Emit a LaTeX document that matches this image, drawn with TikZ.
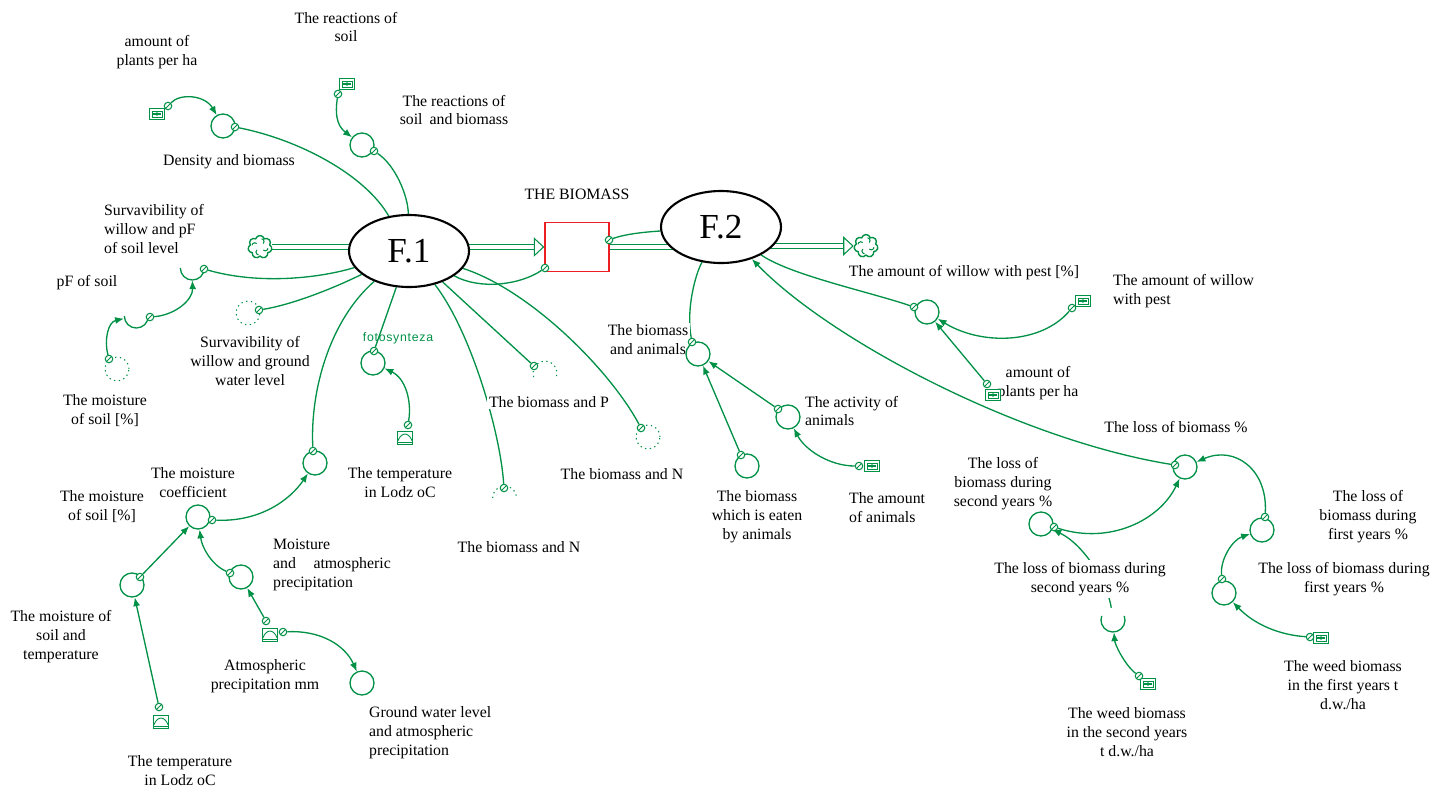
\documentclass[tikz,border=0pt]{standalone}
\usepackage{fontspec}
\setmainfont{Liberation Serif}
\newfontfamily\sansLabel[LetterSpace=6]{Liberation Sans}
\usetikzlibrary{arrows.meta,shapes.geometric,shapes.symbols,backgrounds}
\definecolor{simGreen}{RGB}{0,145,70}
\definecolor{stockRed}{RGB}{235,30,35}

\begin{document}
\begin{tikzpicture}[x=0.02cm,y=-0.02cm,%%
  labelStyle/.style={font=\fontsize{9}{10.8}\selectfont,align=center,inner sep=1pt,fill=white},%%
  leftLabel/.style={labelStyle,align=left,anchor=west},%%
  rateStyle/.style={ellipse,draw,line width=1.2pt,fill=white,minimum width=2.4cm,minimum height=1.44cm,font=\fontsize{20}{24}\selectfont},%%
  stockStyle/.style={draw=stockRed,line width=0.8pt,minimum width=1.28cm,minimum height=0.98cm,inner sep=0pt},%%
  auxStyle/.style={circle,draw=simGreen,line width=0.75pt,minimum size=0.48cm,inner sep=0pt},%%
  shadowStyle/.style={auxStyle,dotted,line width=0.6pt},%%
  openStyle/.style={circle,minimum size=0.48cm,inner sep=0pt},%%
  arcStyle/.style={draw=simGreen,line width=0.75pt},%%
  tailStyle/.style={circle,draw=simGreen,line width=0.6pt,fill=white,minimum size=0.15cm,inner sep=0pt,
    path picture={\draw[simGreen,line width=0.5pt] (path picture bounding box.south west) -- (path picture bounding box.north east);}},%%
  constStyle/.style={draw=simGreen,line width=0.8pt,fill=white,minimum width=0.3cm,minimum height=0.22cm,inner sep=0pt,
    path picture={
      \draw[simGreen,line width=0.4pt] ([shift={(1.4pt,1.4pt)}]path picture bounding box.south west) rectangle ([shift={(-1.4pt,-1.4pt)}]path picture bounding box.north east);
      \draw[simGreen,line width=0.6pt] ([xshift=-2.5pt]path picture bounding box.center) -- ([xshift=2.5pt]path picture bounding box.center);
      \fill[simGreen] (path picture bounding box.center) circle (1.1pt);}},%%
  graphStyle/.style={draw=simGreen,line width=0.7pt,fill=white,minimum width=0.3cm,minimum height=0.27cm,inner sep=0pt,
    path picture={
      \draw[simGreen,line width=0.5pt] ([shift={(-4pt,-2.3pt)}]path picture bounding box.center) -- ([shift={(4pt,-2.3pt)}]path picture bounding box.center);
      \draw[simGreen,line width=0.5pt] ([shift={(-4pt,-1.5pt)}]path picture bounding box.center) .. controls ([shift={(-2pt,3.5pt)}]path picture bounding box.center) and ([shift={(2pt,3.5pt)}]path picture bounding box.center) .. ([shift={(4pt,-1.5pt)}]path picture bounding box.center);}},%%
  cloudStyle/.style={cloud,cloud puffs=7,aspect=1,draw=simGreen,line width=0.8pt,fill=white,minimum width=0.48cm,minimum height=0.46cm,inner sep=0pt,
    path picture={
      \foreach \a in {45,135,225,315}
        \draw[simGreen,line width=0.6pt] ([shift={(\a:2.6pt)}]path picture bounding box.center) arc[start angle=\a-90,end angle=\a+40,radius=1.6pt];}},%%
  pipeStyle/.style={draw=simGreen,double=white,double distance=2.2pt,line width=0.6pt},%%
  pipeHead/.style={-{Triangle[open,length=6pt,width=11pt]}},%%
  linkStyle/.style={draw=simGreen,line width=0.75pt},%%
  linkArrow/.style={linkStyle,-{Latex[length=5pt,width=4pt]}}
]
\useasboundingbox (0,0) rectangle (1445,789);
%%
%% Labels.
\node[labelStyle] (plantsLabelA) at (157,52) {amount of\\plants per ha};
\node[labelStyle] (reacLabel) at (346,27) {The reactions of\\soil};
\node[labelStyle] (reacAuxLabel) at (454,110) {The reactions of\\soil\hspace{4pt}and biomass};
\node[labelStyle] (densLabel) at (229,162) {Density and biomass};
\node[labelStyle] (stockLabel) at (577,194) {THE BIOMASS};
\node[leftLabel] (svpfLabel) at (102,229) {Survavibility of\\willow and pF\\of soil level};
\node[labelStyle] (pfLabel) at (87,283) {pF of soil};
\node[labelStyle] (moistLabelA) at (105,411) {The moisture\\of soil [\%]};
\node[labelStyle] (gwLabel) at (250,361) {Survavibility of\\willow and ground\\water level};
\node[labelStyle,fill=none,font=\sansLabel\fontsize{7}{9}\selectfont,text=simGreen] (fotoLabel) at (398,338) {fotosynteza};
\node[labelStyle] (tempLabelA) at (400,483) {The temperature\\in Lodz oC};
\node[labelStyle] (bpLabel) at (549,402) {The biomass and P};
\node[labelStyle] (bnLabelB) at (622,474) {The biomass and N};
\node[labelStyle] (bnLabelA) at (519,547) {The biomass and N};
\node[labelStyle] (animLabel) at (648,340) {The biomass\\and animals};
\node[leftLabel] (activityLabel) at (803,411) {The activity of\\animals};
\node[labelStyle] (eatenLabel) at (757,517) {The biomass\\which is eaten\\by animals};
\node[leftLabel] (animConstLabel) at (847,508) {The amount\\of animals};
\node[labelStyle] (pestLabel) at (964,273) {The amount of willow with pest [\%]};
\node[leftLabel] (pestConstLabel) at (1111,291) {The amount of willow\\with pest};
\node[labelStyle] (plantsLabelB) at (1038,383) {amount of\\plants per ha};
\node[labelStyle] (lossLabel) at (1176,427) {The loss of biomass \%};
\node[labelStyle] (lossSecLabel) at (1003,484) {The loss of\\biomass during\\second years \%};
\node[labelStyle] (lossSecLabelB) at (1080,579) {The loss of biomass during\\second years \%};
\node[labelStyle] (weedSecLabel) at (1127,732) {The weed biomass\\in the second years\\t d.w./ha};
\node[labelStyle] (lossFirstLabel) at (1368,517) {The loss of\\biomass during\\first years \%};
\node[labelStyle] (lossFirstLabelB) at (1344,579) {The loss of biomass during\\first years \%};
\node[labelStyle] (weedFirstLabel) at (1343,685) {The weed biomass\\in the first years t\\d.w./ha};
\node[labelStyle] (coefLabel) at (193,483) {The moisture\\coefficient};
\node[labelStyle] (moistLabelB) at (102,507) {The moisture\\of soil [\%]};
\node[labelStyle] (mstLabel) at (61,637) {The moisture of\\soil and\\temperature};
\node[leftLabel] (matLabel) at (271,565) {Moisture\\and\hspace{10pt}atmospheric\\precipitation};
\node[labelStyle] (atmLabel) at (265,676) {Atmospheric\\precipitation mm};
\node[leftLabel] (gwlLabel) at (367,733) {Ground water level\\and atmospheric\\precipitation};
\node[labelStyle] (tempLabelB) at (180,771) {The temperature\\in Lodz oC};
%%
%% Rates, stock and clouds.
\node[rateStyle] (F1) at (409,251) {F.1};
\node[rateStyle] (F2) at (721,227) {F.2};
\node[stockStyle] (stock) at (577,247) {};
\node[cloudStyle] (cloudL) at (260,247) {};
\node[cloudStyle] (cloudR) at (866,246) {};
%%
%% Variables round F.1.
\node[constStyle] (plantsConstA) at (157,114) {};
\node[auxStyle] (densAux) at (223,126) {};
\node[constStyle] (reacConst) at (347,84) {};
\node[auxStyle] (reacAux) at (362,145) {};
\node[openStyle] (svpfAux) at (192,268) {};
\node[openStyle] (pfAux) at (136,316) {};
\node[shadowStyle] (moistShadowA) at (117,369) {};
\node[shadowStyle] (gwShadow) at (248,313) {};
\node[auxStyle] (gwAux) at (315,463) {};
\node[auxStyle] (fotoAux) at (373,363) {};
\node[graphStyle] (tempGraphA) at (405,438) {};
\node[openStyle] (bpShadow) at (545,373) {};
\node[openStyle] (bnShadowA) at (505,498) {};
\node[shadowStyle] (bnShadowB) at (648,437) {};
\node[auxStyle] (coefAux) at (198,517) {};
\node[auxStyle] (mstAux) at (132,585) {};
\node[graphStyle] (tempGraphB) at (161,722) {};
\node[auxStyle] (matAux) at (241,577) {};
\node[graphStyle] (atmGraph) at (270,635) {};
\node[auxStyle] (gwlAux) at (362,683) {};
%%
%% Variables round F.2.
\node[auxStyle] (animAux) at (698,354) {};
\node[auxStyle] (eatenAux) at (747,466) {};
\node[auxStyle] (activityAux) at (788,417) {};
\node[constStyle] (animConst) at (872,466) {};
\node[auxStyle] (pestAux) at (927,312) {};
\node[constStyle] (pestConst) at (1083,301) {};
\node[constStyle] (plantsConstB) at (993,395) {};
\node[auxStyle] (lossAux) at (1185,467) {};
\node[auxStyle] (lossSecAux) at (1041,524) {};
\node[openStyle] (lossSecAuxB) at (1113,620) {};
\node[constStyle] (weedSecConst) at (1148,684) {};
\node[auxStyle] (lossFirstAux) at (1262,530) {};
\node[auxStyle] (lossFirstAuxB) at (1224,593) {};
\node[constStyle] (weedFirstConst) at (1321,638) {};
%%
%% Open circles.
\draw[arcStyle] (svpfAux.east) arc[start angle=0,end angle=180,radius=12];
\draw[arcStyle] (pfAux.east) arc[start angle=0,end angle=180,radius=12];
\draw[arcStyle,dotted,line width=0.6pt] ([shift={(160:12)}]bpShadow.center) arc[start angle=160,end angle=380,radius=12];
\draw[arcStyle,dotted,line width=0.6pt] (bnShadowA.west) arc[start angle=180,end angle=360,radius=12];
\draw[arcStyle] ([shift={(-20:12)}]lossSecAuxB.center) arc[start angle=-20,end angle=200,radius=12];
%%
%% Tails of the links.
\node[tailStyle] (plantsTailA) at (168,106) {};
\node[tailStyle] (densTail) at (235,127) {};
\node[tailStyle] (reacTail) at (338,94) {};
\node[tailStyle] (reacAuxTail) at (374,151) {};
\node[tailStyle] (svpfTail) at (204,269) {};
\node[tailStyle] (pfTail) at (150,317) {};
\node[tailStyle] (moistTailA) at (109,359) {};
\node[tailStyle] (gwTail) at (259,310) {};
\node[tailStyle] (gwAuxTail) at (313,451) {};
\node[tailStyle] (fotoTail) at (374,351) {};
\node[tailStyle] (tempTailA) at (408,425) {};
\node[tailStyle] (bpTail) at (534,366) {};
\node[tailStyle] (bnTailA) at (504,488) {};
\node[tailStyle] (bnTailB) at (641,428) {};
\node[tailStyle] (stockTailL) at (545,268) {};
\node[tailStyle] (stockTailR) at (609,240) {};
\node[tailStyle] (coefTail) at (212,520) {};
\node[tailStyle] (mstTail) at (140,577) {};
\node[tailStyle] (tempTailB) at (159,707) {};
\node[tailStyle] (matTail) at (230,573) {};
\node[tailStyle] (atmTailA) at (266,621) {};
\node[tailStyle] (atmTailB) at (283,632) {};
\node[tailStyle] (animTail) at (692,342) {};
\node[tailStyle] (eatenTail) at (741,455) {};
\node[tailStyle] (activityTail) at (778,409) {};
\node[tailStyle] (animConstTail) at (859,466) {};
\node[tailStyle] (pestTail) at (914,307) {};
\node[tailStyle] (pestConstTail) at (1072,308) {};
\node[tailStyle] (plantsTailB) at (987,384) {};
\node[tailStyle] (lossTail) at (1175,465) {};
\node[tailStyle] (lossSecTail) at (1054,527) {};
\node[tailStyle] (weedSecTail) at (1139,676) {};
\node[tailStyle] (lossFirstTail) at (1265,517) {};
\node[tailStyle] (lossFirstTailB) at (1222,579) {};
\node[tailStyle] (weedFirstTail) at (1310,637) {};
%%
\begin{pgfonlayer}{background}
%% Pipes of the flow.
\draw[pipeStyle] (cloudL.east) -- (F1.center |- cloudL.east);
\draw[pipeStyle,pipeHead] (F1.center |- stock.west) -- (stock.west);
\draw[pipeStyle] (stock.east) -- (F2.center |- stock.east);
\draw[pipeStyle,pipeHead] (F2.center |- cloudR.west) -- (cloudR.west);
%% Links into F.1.
\draw[linkArrow] (plantsTailA) .. controls (180,93) and (205,95) .. (densAux);
\draw[linkStyle] (densTail) .. controls (300,140) and (365,175) .. (F1);
\draw[linkArrow] (reacTail) .. controls (334,120) and (340,128) .. (reacAux);
\draw[linkStyle] (reacAuxTail) .. controls (395,165) and (408,195) .. (F1);
\draw[linkStyle] (svpfTail) .. controls (260,285) and (320,278) .. (F1);
\draw[linkArrow] (pfTail) .. controls (175,315) and (193,300) .. (svpfAux);
\draw[linkArrow] (moistTailA) .. controls (104,340) and (108,322) .. (pfAux);
\draw[linkStyle] (gwTail) .. controls (290,305) and (330,290) .. (F1);
\draw[linkStyle] (gwAuxTail) .. controls (310,390) and (330,320) .. (F1);
\draw[linkStyle] (fotoTail) -- (F1);
\draw[linkArrow] (tempTailA) .. controls (412,400) and (405,378) .. (fotoAux);
\draw[linkStyle] (bpTail) -- (F1);
\draw[linkStyle] (bnTailA) .. controls (500,430) and (470,330) .. (F1);
\draw[linkStyle] (bnTailB) .. controls (610,370) and (530,290) .. (F1);
\draw[linkStyle] (stockTailL) .. controls (520,285) and (480,290) .. (F1);
\draw[linkStyle] (stockTailR) .. controls (625,234) and (645,232) .. (F2);
%% Links of the moisture part.
\draw[linkArrow] (coefTail) .. controls (260,522) and (290,500) .. (gwAux);
\draw[linkArrow] (mstTail) -- (coefAux);
\draw[linkArrow] (tempTailB) -- (mstAux);
\draw[linkArrow] (matTail) .. controls (212,565) and (202,548) .. (coefAux);
\draw[linkArrow] (atmTailA) -- (matAux);
\draw[linkArrow] (atmTailB) .. controls (320,630) and (345,645) .. (gwlAux);
%% Links into F.2.
\draw[linkStyle] (animTail) .. controls (686,310) and (695,275) .. (F2);
\draw[linkArrow] (eatenTail) -- (animAux);
\draw[linkArrow] (activityTail) -- (animAux);
\draw[linkArrow] (animConstTail) .. controls (830,466) and (805,450) .. (activityAux);
\draw[linkStyle] (pestTail) .. controls (870,292) and (790,275) .. (F2);
\draw[linkArrow] (pestConstTail) .. controls (1040,345) and (980,345) .. (pestAux);
\draw[linkArrow] (plantsTailB) -- (pestAux);
\draw[linkArrow] (lossTail) .. controls (1020,440) and (830,340) .. (F2);
\draw[linkArrow] (lossSecTail) .. controls (1110,545) and (1160,520) .. (lossAux);
\draw[linkArrow] (lossSecAuxB) .. controls (1108,585) and (1085,545) .. (lossSecAux);
\draw[linkArrow] (weedSecTail) .. controls (1125,665) and (1115,645) .. (lossSecAuxB);
\draw[linkArrow] (lossFirstTail) .. controls (1268,470) and (1235,445) .. (lossAux);
\draw[linkArrow] (lossFirstTailB) .. controls (1220,560) and (1232,540) .. (lossFirstAux);
\draw[linkArrow] (weedFirstTail) .. controls (1280,635) and (1255,625) .. (lossFirstAuxB);
\end{pgfonlayer}
\end{tikzpicture}
\end{document}
